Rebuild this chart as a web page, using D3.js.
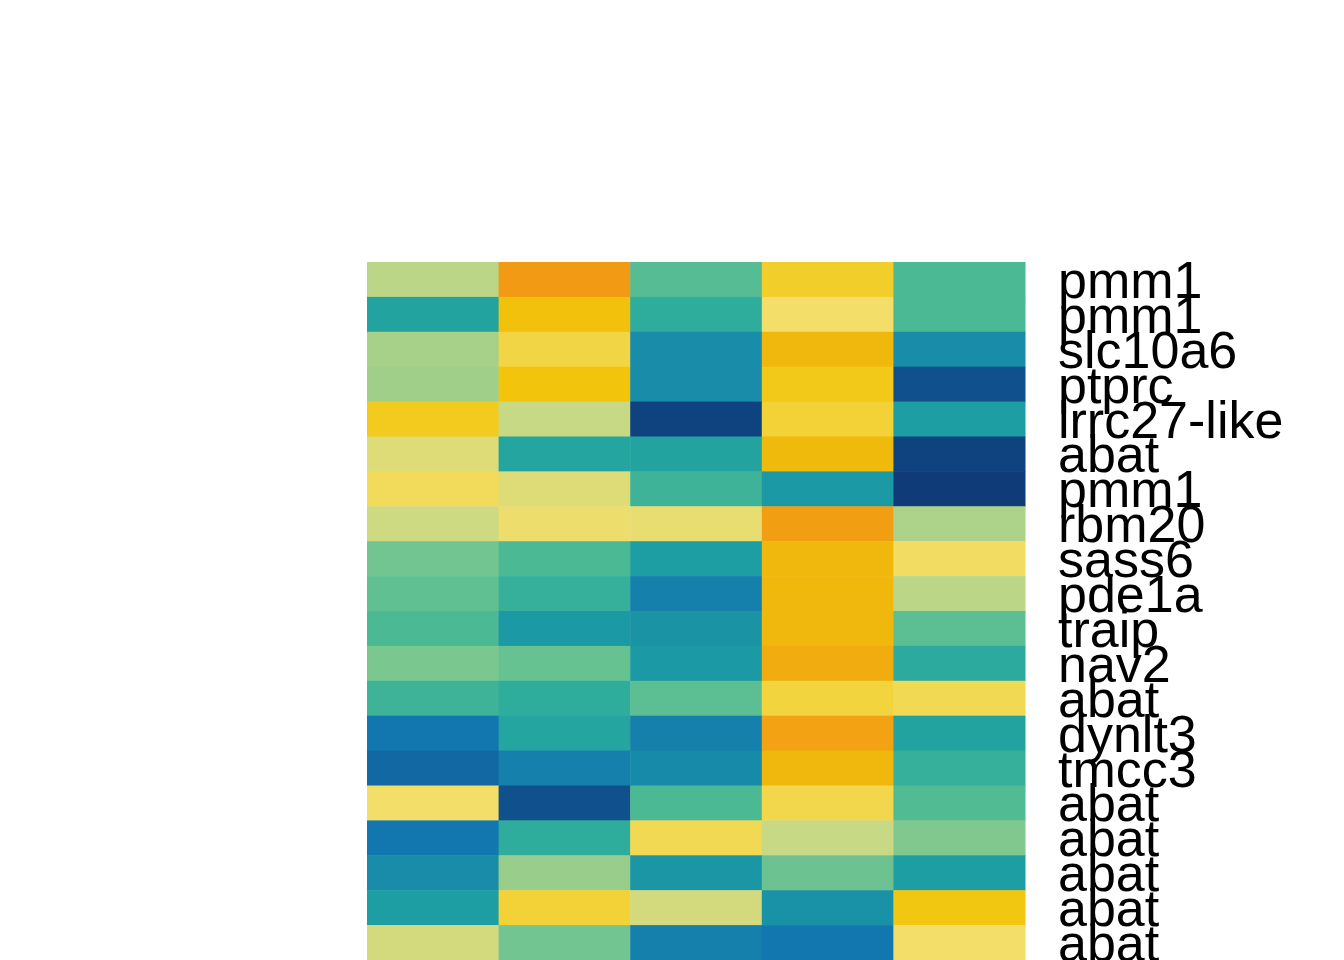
<!DOCTYPE html>
<html>
<head>
<meta charset="utf-8">
<script src="https://cdn.jsdelivr.net/npm/d3@7"></script>
<style>
  html, body { margin: 0; padding: 0; background: #fff; }
  svg { display: block; }
  .rowlab { font-family: "Liberation Sans", Arial, sans-serif; fill: #000; }
</style>
</head>
<body>
<div id="chart"></div>
<script>
// row labels (top to bottom)
const genes = ["pmm1", "pmm1", "slc10a6", "ptprc", "lrrc27-like", "abat", "pmm1", "rbm20",
  "sass6", "pde1a", "traip", "nav2", "abat", "dynlt3", "tmcc3", "abat", "abat", "abat", "abat", "abat"];

const samples = ["s1", "s2", "s3", "s4", "s5"];

// scaled expression, 0 = low, 1 = high
const values = [
  [0.62, 1.00, 0.47, 0.81, 0.45],
  [0.34, 0.88, 0.38, 0.72, 0.45],
  [0.59, 0.77, 0.25, 0.92, 0.25],
  [0.58, 0.86, 0.25, 0.84, 0.10],
  [0.83, 0.64, 0.04, 0.79, 0.32],
  [0.68, 0.35, 0.34, 0.91, 0.04],
  [0.74, 0.68, 0.42, 0.30, 0.00],
  [0.65, 0.71, 0.70, 0.99, 0.60],
  [0.52, 0.45, 0.32, 0.92, 0.73],
  [0.49, 0.40, 0.21, 0.92, 0.62],
  [0.45, 0.30, 0.28, 0.92, 0.48],
  [0.53, 0.50, 0.30, 0.95, 0.37],
  [0.42, 0.38, 0.48, 0.78, 0.75],
  [0.18, 0.35, 0.21, 0.98, 0.34],
  [0.15, 0.21, 0.24, 0.92, 0.40],
  [0.72, 0.10, 0.45, 0.76, 0.46],
  [0.18, 0.38, 0.75, 0.64, 0.54],
  [0.25, 0.57, 0.29, 0.51, 0.32],
  [0.32, 0.79, 0.66, 0.27, 0.85],
  [0.66, 0.52, 0.21, 0.18, 0.72]
];

// palette stops
const colorStops = [0.00, 0.10, 0.18, 0.25, 0.32, 0.38, 0.45, 0.52, 0.58, 0.64, 0.72, 0.80, 0.86, 0.92, 1.00];
const colorRange = ["#0f3b78", "#10508c", "#1277af", "#188ca8", "#1c9ea2", "#2eac9c", "#4bb994",
  "#72c591", "#a0cf8a", "#c8d986", "#f2de68", "#f2d030", "#f2c50c", "#f0b80c", "#f29a14"];

const width = 1344, height = 960;
const gridLeft = 367, gridRight = 1025, gridTop = 262, gridBottom = 960;
const fontSize = 52;

const svg = d3.select("#chart").append("svg")
  .attr("width", width)
  .attr("height", height);

const x = d3.scaleBand().domain(samples).range([gridLeft, gridRight]).padding(0);
const y = d3.scaleBand().domain(d3.range(genes.length)).range([gridTop, gridBottom]).padding(0);
const color = d3.scaleLinear().domain(colorStops).range(colorRange).interpolate(d3.interpolateRgb);

const cells = [];
values.forEach((row, i) => {
  row.forEach((v, j) => cells.push({ row: i, col: samples[j], v: v }));
});

svg.append("g").selectAll("rect")
  .data(cells)
  .enter()
  .append("rect")
  .attr("x", d => x(d.col))
  .attr("y", d => y(d.row))
  .attr("width", x.bandwidth() + 0.5)
  .attr("height", y.bandwidth() + 0.5)
  .attr("fill", d => color(d.v));

// labels on the right
svg.append("g").selectAll("text")
  .data(genes)
  .enter()
  .append("text")
  .attr("class", "rowlab")
  .attr("x", gridRight + 33)
  .attr("y", (d, i) => y(i) + y.bandwidth() / 2 + fontSize * 0.355)
  .attr("font-size", fontSize)
  .text(d => d);
</script>
</body>
</html>
